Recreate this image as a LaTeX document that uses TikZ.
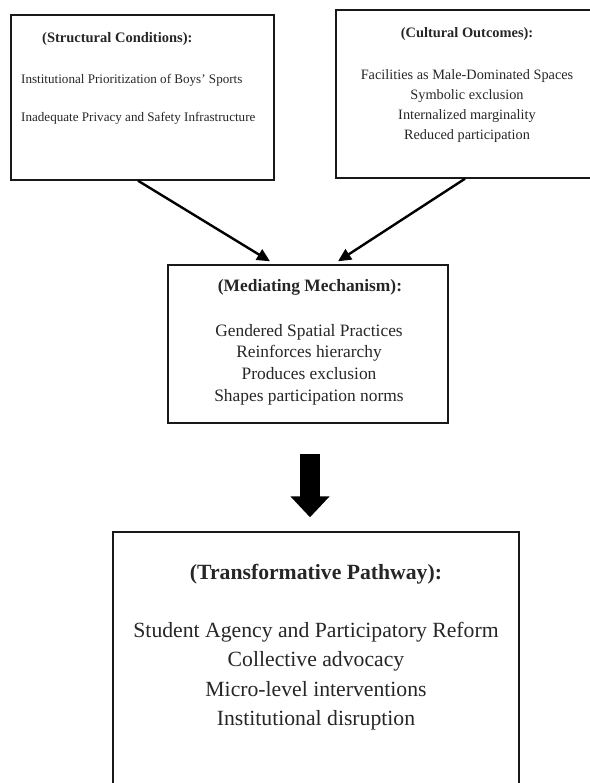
\documentclass[tikz,border=0pt]{standalone}
\usepackage{fontspec}
\setmainfont{Liberation Serif}
\usetikzlibrary{arrows.meta}
\begin{document}
\begin{tikzpicture}[x=1pt,y=-1pt,
  box/.style={draw=black!90,line width=1.4pt,inner sep=0pt},
  words/.style={inner sep=0pt,text=black!85},
  link/.style={draw=black,line width=2.4pt,-{Triangle[length=13pt,width=12pt]}},
  bigarrow/.style={draw=black,line width=20pt,-{Triangle[length=21pt,width=38pt]}}]
\useasboundingbox (0,0) rectangle (589,783);
% boxes
\node[box,minimum width=263pt,minimum height=165pt] (sc) at (142.5,97.5) {};
\node[box,minimum width=262pt,minimum height=168pt] (co) at (467,94) {};
\node[box,minimum width=280pt,minimum height=158pt] (mm) at (308,344) {};
\node[box,minimum width=406pt,minimum height=258pt] (tp) at (316,661) {};
% structural conditions
\node[words,anchor=north west,font=\fontsize{14.5}{17}\selectfont\bfseries] (sctitle) at (42,31.8) {(Structural Conditions):};
\node[words,anchor=north west,align=left,font=\fontsize{13.1}{38}\selectfont] (sctext) at (21,74.5)
  {Institutional Prioritization of Boys’ Sports\\Inadequate Privacy and Safety Infrastructure};
% cultural outcomes
\node[words,anchor=north,font=\fontsize{14.4}{17}\selectfont\bfseries] (cotitle) at (467,27.8) {(Cultural Outcomes):};
\node[words,anchor=north,align=center,font=\fontsize{14.3}{20}\selectfont] (cotext) at (467,69)
  {Facilities as Male-Dominated Spaces\\Symbolic exclusion\\Internalized marginality\\Reduced participation};
% mediating mechanism
\node[words,anchor=north,font=\fontsize{17.4}{20}\selectfont\bfseries] (mmtitle) at (310,279.7) {(Mediating Mechanism):};
\node[words,anchor=north,align=center,font=\fontsize{17.4}{21.7}\selectfont] (mmtext) at (309,324)
  {Gendered Spatial Practices\\Reinforces hierarchy\\Produces exclusion\\Shapes participation norms};
% transformative pathway
\node[words,anchor=north,font=\fontsize{21.7}{25}\selectfont\bfseries] (tptitle) at (316,564) {(Transformative Pathway):};
\node[words,anchor=north,align=center,font=\fontsize{21.7}{29.3}\selectfont] (tptext) at (316,622)
  {Student Agency and Participatory Reform\\Collective advocacy\\Micro-level interventions\\Institutional disruption};
% arrows
\draw[link] ([xshift=-4.5pt]sc.south) -- ([xshift=-38pt,yshift=3pt]mm.north);
\draw[link] ([xshift=-2pt]co.south) -- ([xshift=30pt,yshift=3pt]mm.north);
\draw[bigarrow] ([xshift=2pt,yshift=-30pt]mm.south) -- ([xshift=-6pt,yshift=14pt]tp.north);
\end{tikzpicture}
\end{document}
